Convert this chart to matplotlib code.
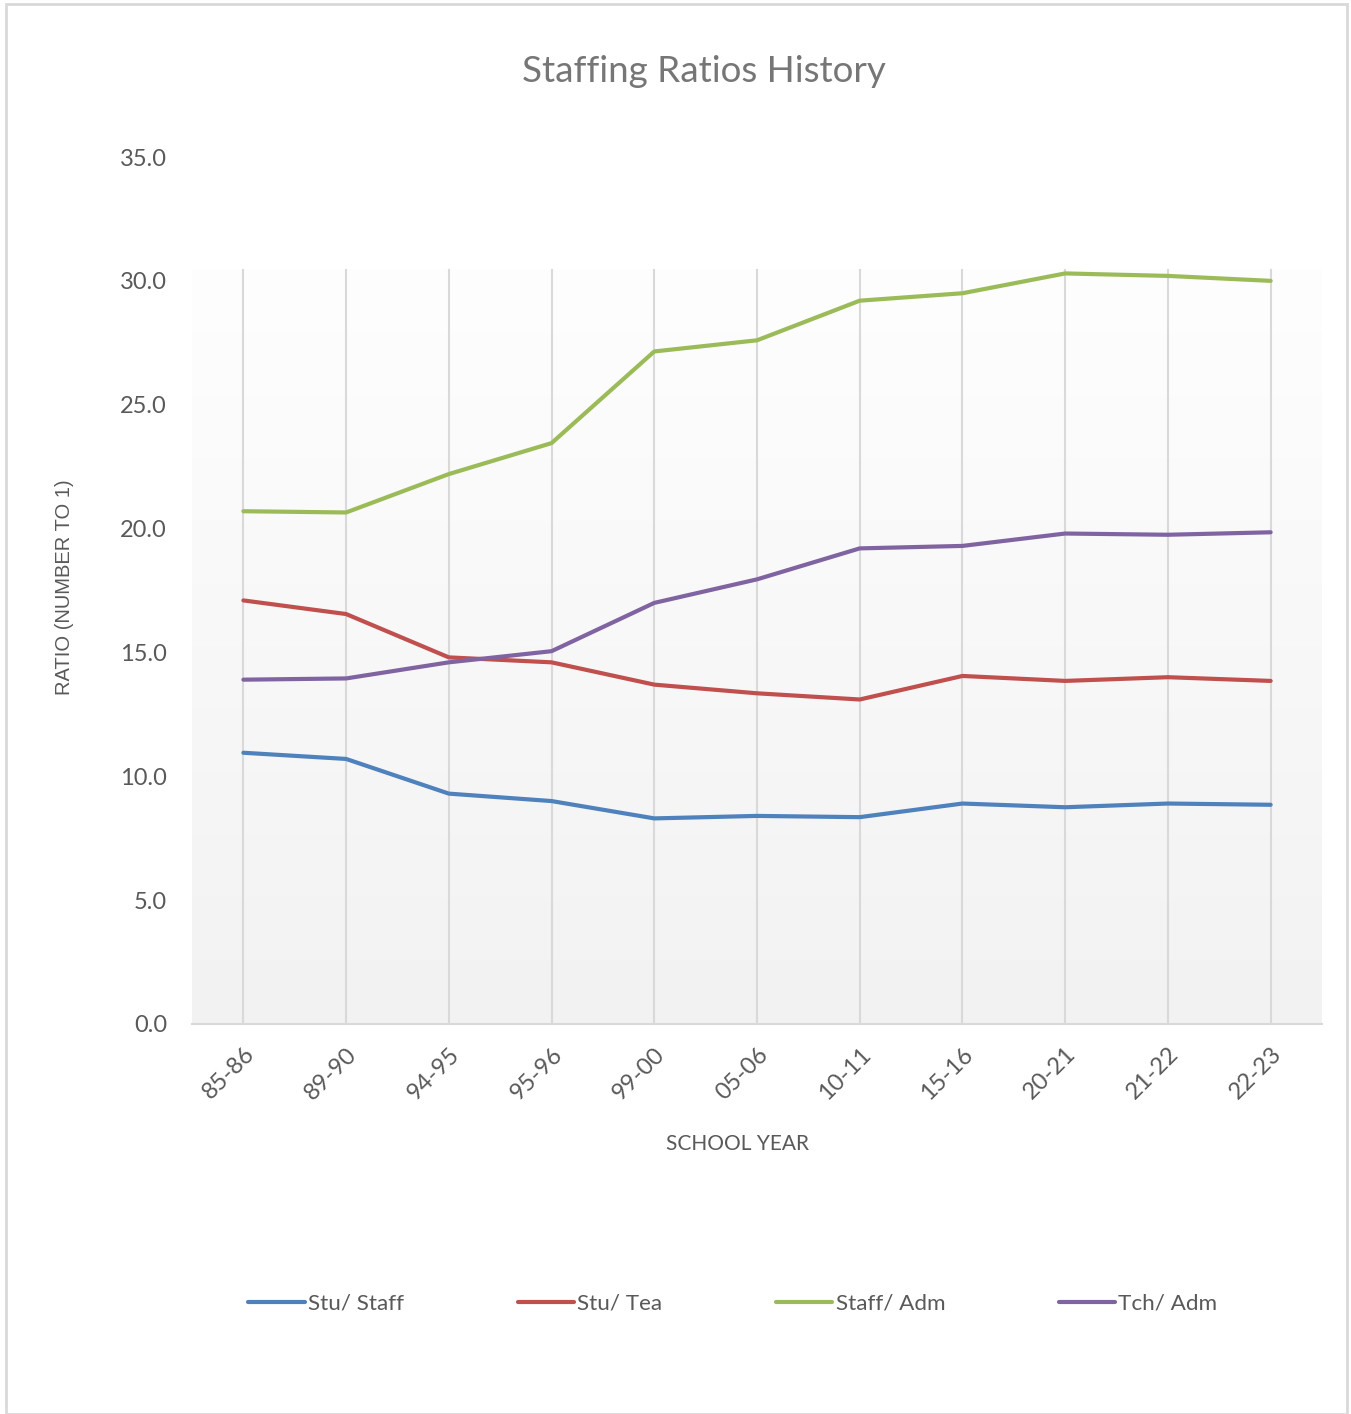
import numpy as np
import matplotlib.pyplot as plt
from matplotlib.patches import Rectangle
from matplotlib.colors import LinearSegmentedColormap

years = ['85-86', '89-90', '94-95', '95-96', '99-00', '05-06', '10-11',
         '15-16', '20-21', '21-22', '22-23']
stu_staff = [10.95, 10.7, 9.3, 9.0, 8.3, 8.4, 8.35, 8.9, 8.75, 8.9, 8.85]
stu_tea = [17.1, 16.55, 14.8, 14.6, 13.7, 13.35, 13.1, 14.05, 13.85, 14.0, 13.85]
staff_adm = [20.7, 20.65, 22.2, 23.45, 27.15, 27.6, 29.2, 29.5, 30.3, 30.2, 30.0]
tch_adm = [13.9, 13.95, 14.6, 15.05, 17.0, 17.95, 19.2, 19.3, 19.8, 19.75, 19.85]

series = [('Stu/ Staff', stu_staff, '#4f81bd'),
          ('Stu/ Tea', stu_tea, '#c0504d'),
          ('Staff/ Adm', staff_adm, '#9bbb59'),
          ('Tch/ Adm', tch_adm, '#8064a2')]

plt.rcParams['font.family'] = ['Lato', 'DejaVu Sans']
txt = '#595959'

fig = plt.figure(figsize=(13.51, 14.14), dpi=100)
fig.patches.append(Rectangle((6/1351, 0), 1341/1351, 1 - 4/1414, transform=fig.transFigure,
                             fill=False, edgecolor='#d9d9d9', linewidth=2))

ax = fig.add_axes([192/1351, 1 - 1024/1414, 1130/1351, 867/1414])
x = np.arange(len(years))

# plot area fill only covers the lower part (up to ~30.45), white -> light grey
area_top = 30.45
grad = np.linspace(0, 1, 256).reshape(-1, 1)
ax.imshow(grad, extent=(-0.5, 10.5, 0, area_top), aspect='auto', origin='upper',
          cmap=LinearSegmentedColormap.from_list('g', ['#fefefe', '#f2f2f2']),
          zorder=0)

for xi in x:
    ax.axvline(xi, ymax=area_top / 35, color='#d9d9d9', linewidth=1.5, zorder=1)

for name, vals, col in series:
    ax.plot(x, vals, color=col, linewidth=3, solid_capstyle='round', label=name, zorder=3)

ax.set_xlim(-0.5, 10.5)
ax.set_ylim(0, 35)
ax.set_yticks(np.arange(0, 35.1, 5))
ax.set_yticklabels([f'{v:.1f}' for v in np.arange(0, 35.1, 5)])
ax.set_xticks(x)
ax.set_xticklabels(years, rotation=45, ha='right', rotation_mode='anchor')
ax.tick_params(axis='both', length=0, labelsize=17, colors=txt)
ax.tick_params(axis='x', pad=14)
ax.tick_params(axis='y', pad=18)
for s in ['top', 'right', 'left']:
    ax.spines[s].set_visible(False)
ax.spines['bottom'].set_color('#d9d9d9')
ax.spines['bottom'].set_linewidth(1.5)

fig.text(704/1351, 1 - 72/1414, 'Staffing Ratios History', ha='center', va='center',
         fontsize=26.5, color='#767676')
fig.text(738/1351, 1 - 1144/1414, 'SCHOOL YEAR', ha='center', va='center',
         fontsize=15, color=txt)
fig.text(65/1351, 1 - 587/1414, 'RATIO (NUMBER TO 1)', ha='center', va='center',
         rotation=90, fontsize=14.5, color=txt, family=['Liberation Sans', 'DejaVu Sans'])

fig.legend(loc='center', bbox_to_anchor=(733/1351, 1 - 1304/1414), ncol=4, frameon=False,
           fontsize=16.2, handlelength=2.5, handletextpad=0.15, columnspacing=5.05,
           labelcolor=txt)

plt.savefig('out.png', dpi=100)
